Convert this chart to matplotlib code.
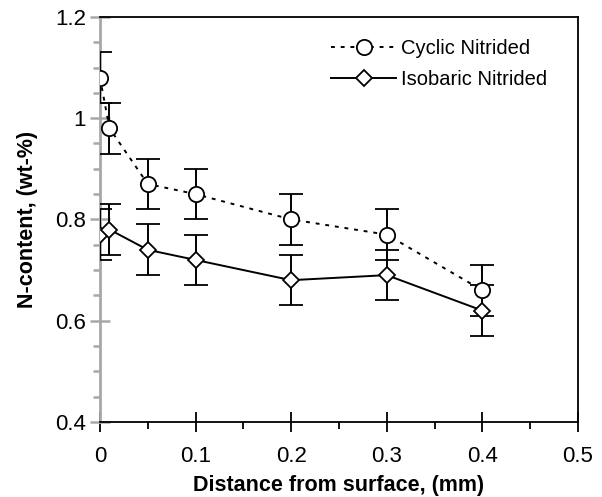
import matplotlib.pyplot as plt
from matplotlib.ticker import MultipleLocator

plt.rcParams['font.family'] = ['Liberation Sans', 'DejaVu Sans']

distance = [0, 0.01, 0.05, 0.1, 0.2, 0.3, 0.4]
cyclic = [1.08, 0.98, 0.87, 0.85, 0.80, 0.77, 0.66]
cyclic_err = [0.05, 0.05, 0.05, 0.05, 0.05, 0.05, 0.05]
isobaric = [0.77, 0.78, 0.74, 0.72, 0.68, 0.69, 0.62]
isobaric_err = [0.05, 0.05, 0.05, 0.05, 0.05, 0.05, 0.05]
series_names = ['Cyclic Nitrided', 'Isobaric Nitrided']

x_ticks = [0, 0.1, 0.2, 0.3, 0.4, 0.5]
x_labels = ['0', '0.1', '0.2', '0.3', '0.4', '0.5']
y_ticks = [0.4, 0.6, 0.8, 1.0, 1.2]
y_labels = ['0.4', '0.6', '0.8', '1', '1.2']


def main():
    fig = plt.figure(figsize=(6.02, 4.97), dpi=100)
    ax = fig.add_axes([0.166, 0.151, 0.794, 0.815])

    c1 = ax.errorbar(distance, cyclic, yerr=cyclic_err, color='black', ls=(0, (2, 3)),
                     lw=1.4, marker='o', ms=11, mfc='white', mec='black', mew=1.3,
                     ecolor='black', elinewidth=1.4, capsize=8.5, capthick=1.4,
                     zorder=3)
    c2 = ax.errorbar(distance, isobaric, yerr=isobaric_err, color='black', ls='-',
                     lw=1.4, marker='D', ms=8, mfc='white', mec='black', mew=1.3,
                     ecolor='black', elinewidth=1.4, capsize=8.5, capthick=1.4,
                     zorder=3)

    ax.set_xlim(0, 0.5)
    ax.set_ylim(0.4, 1.2)
    ax.set_xticks(x_ticks)
    ax.set_xticklabels(x_labels)
    ax.set_yticks(y_ticks)
    ax.set_yticklabels(y_labels)
    ax.xaxis.set_minor_locator(MultipleLocator(0.05))
    ax.yaxis.set_minor_locator(MultipleLocator(0.05))

    for side in ['top', 'right', 'bottom']:
        ax.spines[side].set_color('black')
        ax.spines[side].set_linewidth(1.3)
    ax.spines['left'].set_color('#a8a8a8')
    ax.spines['left'].set_linewidth(2)

    ax.tick_params(axis='x', which='major', direction='inout', length=14,
                   width=1.3, labelsize=16, pad=10, colors='black')
    ax.tick_params(axis='x', which='minor', direction='out', length=5, width=1.3)
    ax.tick_params(axis='y', which='major', direction='inout', length=14,
                   width=1.8, labelsize=16, pad=3, color='#a8a8a8',
                   labelcolor='black')
    ax.tick_params(axis='y', which='minor', direction='out', length=5,
                   width=1.8, color='#a8a8a8')

    ax.set_xlabel('Distance from surface, (mm)', fontsize=15.5, fontweight='bold',
                  labelpad=6)
    ax.set_ylabel('N-content, (wt-%)', fontsize=15.5, fontweight='bold',
                  labelpad=12)

    ax.legend(handles=[c1[0], c2[0]], labels=series_names, loc='upper right',
              bbox_to_anchor=(0.952, 0.965), frameon=False,
              fontsize=14.5, handlelength=3.2, handletextpad=0.25,
              labelspacing=0.6, borderaxespad=0)

    fig.savefig('out.png', dpi=100)


if __name__ == '__main__':
    main()
